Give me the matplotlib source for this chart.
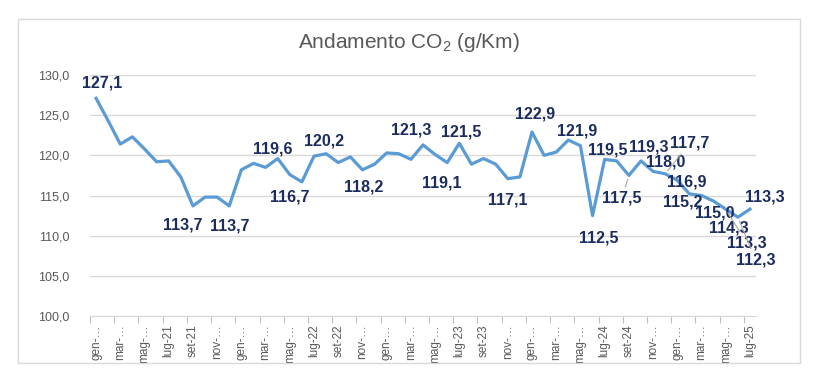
import matplotlib
matplotlib.use("Agg")
import matplotlib.pyplot as plt
from matplotlib.patches import Rectangle

plt.rcParams["font.family"] = ["Liberation Sans", "DejaVu Sans"]
plt.rcParams["mathtext.default"] = "regular"

# monthly CO2 values, gen-21 .. lug-25
co2 = [
    127.1, 124.3, 121.4, 122.3, 120.8, 119.2, 119.3, 117.3, 113.7, 114.8, 114.8, 113.7,
    118.2, 119.0, 118.5, 119.6, 117.6, 116.7, 119.9, 120.2, 119.1, 119.8, 118.2, 118.9,
    120.3, 120.2, 119.5, 121.3, 120.1, 119.1, 121.5, 118.9, 119.6, 118.9, 117.1, 117.3,
    122.9, 120.0, 120.4, 121.9, 121.2, 112.5, 119.5, 119.3, 117.5, 119.3, 118.0, 117.7,
    116.9, 115.2, 115.0, 114.3, 113.3, 112.3, 113.3,
]
tick_labels = [
    "gen-…", "mar-…", "mag-…", "lug-21", "set-21", "nov-…",
    "gen-…", "mar-…", "mag-…", "lug-22", "set-22", "nov-…",
    "gen-…", "mar-…", "mag-…", "lug-23", "set-23", "nov-…",
    "gen-…", "mar-…", "mag-…", "lug-24", "set-24", "nov-…",
    "gen-…", "mar-…", "mag-…", "lug-25",
]
# which points get a data label
labelled = [0, 8, 11, 15, 17, 19, 22, 27, 29, 30, 34, 36, 39, 41, 42, 44, 45, 46,
            47, 48, 49, 50, 51, 52, 53, 54]

# label offsets in pixels (dx, dy); leader lines for the far ones
offsets = {
    0: (6, 15), 8: (-10, -19), 11: (0, -20), 15: (-5, 10), 17: (-12, -15),
    19: (-2, 13), 22: (1, -17), 27: (-12, 15), 29: (-5, -20), 30: (2, 11),
    34: (0, -21), 36: (3, 18), 39: (9, 9), 41: (6, -22), 42: (3, 9),
    44: (-7, -23), 45: (8, 14), 46: (13, 9), 47: (25, 31), 48: (9, -2),
    49: (-7, -8), 50: (13, -17), 51: (15, -27), 52: (21, -34), 53: (18, -43),
    54: (15, 12),
}
leaders = [44, 47, 52, 53]

fig = plt.figure(figsize=(8.21, 3.87), dpi=100)
fig.patches.append(Rectangle((18 / 821, 1 - 363 / 387), (800 - 18) / 821, (363 - 19) / 387,
                             transform=fig.transFigure, fill=False,
                             edgecolor="#D9D9D9", linewidth=1))
ax = fig.add_axes([90 / 821, 1 - 316 / 387, (756 - 90) / 821, (316 - 75) / 387])

x = list(range(len(co2)))
ax.plot(x, co2, color="#5B9BD5", linewidth=2.3, solid_joinstyle="round", zorder=3)

for i in labelled:
    dx, dy = offsets[i]
    txt = f"{co2[i]:.1f}".replace(".", ",")
    arrow = None
    if i in leaders:
        arrow = dict(arrowstyle="-", color="#A6A6A6", linewidth=0.8, shrinkA=1, shrinkB=3)
    ax.annotate(txt, (i, co2[i]), xytext=(dx, dy), textcoords="offset pixels",
                ha="center", va="center", fontsize=11.5, fontweight="bold",
                color="#1C2C5E", arrowprops=arrow, annotation_clip=False, zorder=4)

ax.set_xlim(-0.5, len(co2) - 0.5)
ax.set_ylim(100, 130)
ax.set_yticks([100, 105, 110, 115, 120, 125, 130])
ax.set_yticklabels([f"{v:.1f}".replace(".", ",") for v in [100, 105, 110, 115, 120, 125, 130]])
ax.yaxis.grid(True, color="#D9D9D9", linewidth=1)
ax.set_axisbelow(True)

ax.set_xticks(x[::2])
ax.set_xticklabels(tick_labels, rotation=90)
ax.set_xticks([v - 0.5 for v in x[::2]], minor=True)
ax.tick_params(axis="x", which="major", length=0, pad=6, labelsize=8.5, labelcolor="#595959")
ax.tick_params(axis="x", which="minor", length=5, color="#BFBFBF", width=0.8)
ax.tick_params(axis="y", length=0, pad=15, labelsize=9, labelcolor="#595959")

for s in ["top", "right", "left"]:
    ax.spines[s].set_visible(False)
ax.spines["bottom"].set_color("#D9D9D9")

fig.text(409 / 821, 1 - 42 / 387, "Andamento CO$_2$ (g/Km)", ha="center", va="center",
         fontsize=15, color="#595959")

fig.savefig("out.png", dpi=100)
